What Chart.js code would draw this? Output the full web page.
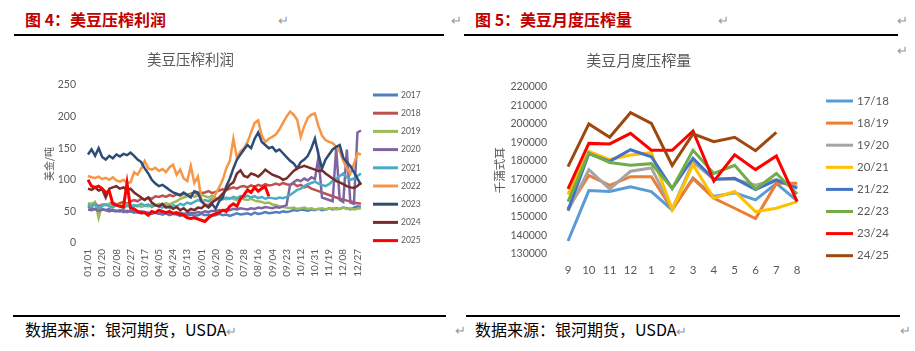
<!DOCTYPE html>
<html>
<head>
<meta charset="utf-8">
<script src="https://cdn.jsdelivr.net/npm/chart.js@4"></script>
<style>
  body { margin: 0; width: 915px; height: 351px; background: #fff; position: relative; overflow: hidden;
         font-family: "Noto Sans CJK SC", sans-serif; }
  .abs { position: absolute; white-space: nowrap; }
  .head { font-size: 16px; font-weight: bold; color: #C00000; line-height: 20px; }
  .rule { height: 2px; background: #000; }
  .foot { font-size: 16px; color: #000; line-height: 20px; }
  .ret { color: #999; font-size: 13px; line-height: 16px; }
  canvas { position: absolute; }
</style>
</head>
<body>
<div class="abs head" style="left:25px;top:9px">图 4：美豆压榨利润</div>
<div class="abs ret" style="left:278px;top:12px">↵</div>
<div class="abs ret" style="left:451px;top:12px">↵</div>
<div class="abs rule" style="left:14px;top:34px;width:430px"></div>

<div class="abs head" style="left:475px;top:9px">图 5：美豆月度压榨量</div>
<div class="abs ret" style="left:718px;top:12px">↵</div>
<div class="abs ret" style="left:897px;top:12px">↵</div>
<div class="abs ret" style="left:897px;top:42px">↵</div>
<div class="abs rule" style="left:464px;top:34px;width:434px"></div>

<canvas id="profitChart" width="425" height="258" style="left:20px;top:45px"></canvas>
<canvas id="crushChart" width="430" height="258" style="left:470px;top:45px"></canvas>

<div class="abs rule" style="left:13px;top:315px;width:433px;height:1.5px"></div>
<div class="abs rule" style="left:466px;top:315px;width:434px;height:1.5px"></div>
<div class="abs foot" style="left:25px;top:319px">数据来源：银河期货，USDA<span class="ret">↵</span></div>
<div class="abs ret" style="left:455px;top:322px">↵</div>
<div class="abs foot" style="left:475px;top:319px">数据来源：银河期货，USDA<span class="ret">↵</span></div>
<div class="abs ret" style="left:900px;top:322px">↵</div>

<script>
// 图4 美豆压榨利润（每约4.75天取一个点，01/01 ~ 12/31）
const tickDates = ['01/01','01/20','02/08','02/27','03/17','04/05','04/24','05/13','06/01','06/20',
                   '07/09','07/28','08/16','09/04','09/23','10/12','10/31','11/19','12/08','12/27'];
const years = ['2017','2018','2019','2020','2021','2022','2023','2024','2025'];

const p2017 = [58,55,53,56,54, 52,54,51,50, 52,49,51,50, 48,50,47,49, 48,46,48,47, 45,47,44,46,
  45,43,46,44, 45,43,44,46, 44,45,43,44, 46,44,45,43, 45,47,45,46, 47,45,48,46, 47,49,47,48,
  49,48,50,49, 50,52,51,53, 52,51,53,52, 54,52,53,55, 53,55,54,56, 55,53,56,58,57];
const p2018 = [62,60,63,58,61, 60,62,64,61, 63,65,62,66, 68,66,70,69, 72,70,74,73, 75,73,76,74,
  77,75,78,76, 78,80,77,79, 80,82,79,81, 83,85,84,86, 88,86,89,90, 88,91,89,92, 90,93,91,92,
  94,92,95,93, 92,94,90,92, 88,90,86,84, 82,80,78,76, 74,72,70,69, 67,66,64,63,62];
const p2019 = [63,62,65,40,61, 60,62,59,61, 60,58,61,59, 58,60,57,59, 58,61,59,62, 60,63,61,64,
  66,70,72,74, 76,73,75,77, 74,72,75,71, 70,72,69,71, 70,68,71,69, 68,70,67,66, 65,63,64,61,
  60,58,57,56, 55,56,54,55, 56,54,55,53, 54,55,53,54, 55,53,54,56, 54,55,53,54,55];
const p2020 = [53,52,54,51,53, 52,50,52,51, 50,52,49,51, 50,48,50,49, 47,49,48,46, 48,47,45,47,
  46,48,46,47, 48,47,49,48, 50,49,51,50, 52,51,53,52, 54,53,55,54, 53,55,54,56, 55,57,56,55,
  57,56,58,60, 92,96,100,98, 102,99,104,101, 136,72,70,68, 66,150,68,65, 148,64,62,175,178];
const p2021 = [60,57,62,55,59, 61,58,56,60, 58,55,59,57, 60,58,62,59, 61,57,60,58, 56,59,55,60,
  58,62,60,64, 62,65,68,66, 68,66,70,68, 71,69,72,70, 73,71,74,72, 75,72,74,71, 73,70,72,71,
  70,72,71,73, 76,80,84,86, 90,93,95,97, 94,92,90,93, 98,102,106,110, 104,100,102,106,110];
const p2022 = [106,104,103,105,101, 103,100,104,99, 97,100,95,96, 112,108,118,130, 118,116,119,114,
  117,112,120,124, 108,116,102,98, 122,95,105,68, 62,60,66,78, 88,100,118,130, 165,135,145,150,
  160,175,190,194, 170,160,165,168, 172,180,190,200, 208,203,195,168, 185,198,203,205,
  185,170,163,160, 158,152,145,130, 118,110,125,142,140];
const p2023 = [140,148,138,150,136, 132,138,134,140, 137,141,139,143, 138,132,128,118, 110,100,94,90,
  92,88,84,80, 78,76,80,76, 72,82,80,66, 60,56,62,54, 66,72,90,102, 118,132,140,148,
  155,150,165,175, 160,155,150,152, 145,148,142,136, 130,126,118,128, 132,138,150,165,
  140,118,132,140, 148,152,155,135, 128,122,112,102,92];
const p2024 = [86,84,88,83,85, 72,86,88,90, 86,88,84,86, 80,76,72,68, 72,64,60,58, 62,56,58,54,
  57,52,55,50, 54,52,56,55, 60,58,64,68, 72,78,84,92, 96,110,115,106, 104,110,108,105,
  110,116,112,108, 106,104,100,102, 108,114,118,120, 122,120,118,116, 114,115,110,106,
  102,98,96,93, 90,88,87,90,96];
const p2025 = [100,90,88,90,86, 80,82,62,60, 58,57,95,55, 54,50,48,48, 44,50,48,52, 50,48,50,47,
  48,45,44,40, 39,40,38,36, 34,40,44,46, 48,52,50,58, 62,58,70,76, 84,80,88,82, 86,89,74];

const profitSeries = [p2017, p2018, p2019, p2020, p2021, p2022, p2023, p2024, p2025];
const profitColors = ['#4F81BD','#C0504D','#9BBB59','#8064A2','#4BACC6','#F79646','#2C4D75','#772C2A','#FF0000'];

// 图5 美豆月度压榨量（千蒲式耳）
const months = ['9','10','11','12','1','2','3','4','5','6','7','8'];
const seasons = ['17/18','18/19','19/20','20/21','21/22','22/23','23/24','24/25'];
const c1718 = [137000,164100,163600,166200,163600,153700,170900,160900,162900,159100,168000,158600];
const c1819 = [154500,172300,166900,171600,171600,153900,170500,160000,154600,149100,168000,168000];
const c1920 = [153200,175400,165000,174500,176300,154200,179500,170200,170200,167000,170000,166000];
const c2021 = [162000,185200,180800,183300,184500,153900,177900,160000,163600,152800,154600,158200];
const c2122 = [153500,184000,179800,186100,182300,165200,181500,170200,170700,164600,169800,165400];
const c2223 = [158200,184300,179200,177700,178600,165300,185800,173300,177700,164900,173300,162300];
const c2324 = [165000,189500,189200,194900,185800,185800,196200,169200,183400,175400,182700,158200];
const c2425 = [177000,200000,192800,206000,200300,177600,194600,190400,192800,185600,195400,null];

const crushSeries = [c1718, c1819, c1920, c2021, c2122, c2223, c2324, c2425];
const crushColors = ['#5B9BD5','#ED7D31','#A5A5A5','#FFC000','#4472C4','#70AD47','#FF0000','#9E480E'];

const tickFont = "Lato, 'Noto Sans CJK SC', sans-serif";
const cjkFont = "'Noto Sans CJK SC', sans-serif";
const grey = '#595959';

// 图例：线段 + 文字，位置由插件参数给定
const lineLegend = {
  id: 'lineLegend',
  afterDraw(chart, args, opts) {
    const ctx = chart.ctx;
    ctx.save();
    ctx.font = opts.font;
    ctx.textBaseline = 'middle';
    ctx.textAlign = 'left';
    chart.data.datasets.forEach((ds, i) => {
      const y = opts.y + i * opts.step;
      ctx.strokeStyle = ds.borderColor;
      ctx.lineWidth = opts.lineWidth;
      ctx.beginPath();
      ctx.moveTo(opts.x, y);
      ctx.lineTo(opts.x + opts.len, y);
      ctx.stroke();
      ctx.fillStyle = grey;
      ctx.fillText(ds.label, opts.x + opts.len + opts.gap, y);
    });
    ctx.restore();
  }
};

// 左图
const dayLabels = [];
for (let i = 0; i < p2017.length; i++) dayLabels.push(i % 4 === 0 ? (tickDates[i / 4] || '') : '');

new Chart(document.getElementById('profitChart'), {
  type: 'line',
  data: {
    labels: dayLabels,
    datasets: profitSeries.map((d, i) => ({
      label: years[i],
      data: d,
      borderColor: profitColors[i],
      backgroundColor: profitColors[i],
      borderWidth: i === 8 ? 3 : 2.5,
      pointRadius: 0,
      tension: 0,
      order: profitSeries.length - i
    }))
  },
  options: {
    responsive: false,
    animation: false,
    devicePixelRatio: 1,
    layout: { padding: { left: 0, right: 84, top: 0, bottom: 0 } },
    plugins: {
      legend: { display: false },
      tooltip: { enabled: false },
      title: {
        display: true,
        text: '美豆压榨利润',
        color: grey,
        font: { family: cjkFont, size: 14.5, weight: 'normal' },
        padding: { top: 6, bottom: 16.6 }
      },
      lineLegend: { x: 353, len: 25, gap: 3, y: 50, step: 18.2, lineWidth: 3, font: "8.5px " + tickFont }
    },
    scales: {
      x: {
        grid: { display: false, drawTicks: false },
        border: { display: false },
        afterFit: s => { s.height = 60; },
        ticks: {
          autoSkip: false, minRotation: 90, maxRotation: 90, padding: 6,
          color: grey, font: { family: tickFont, size: 10 },
          callback: (v, i) => dayLabels[i]
        }
      },
      y: {
        min: 0, max: 250,
        grid: { display: false, drawTicks: false },
        border: { display: false },
        afterFit: s => { s.width = 68; },
        ticks: { stepSize: 50, padding: 12, color: grey, font: { family: tickFont, size: 10.5 } },
        title: {
          display: true, text: '美金/吨', color: grey,
          font: { family: cjkFont, size: 10 }, padding: { top: 23, bottom: 0 }
        }
      }
    }
  },
  plugins: [lineLegend]
});

// 右图
new Chart(document.getElementById('crushChart'), {
  type: 'line',
  data: {
    labels: months,
    datasets: crushSeries.map((d, i) => ({
      label: seasons[i],
      data: d,
      borderColor: crushColors[i],
      backgroundColor: crushColors[i],
      borderWidth: 3,
      pointRadius: 0,
      tension: 0,
      order: crushSeries.length - i
    }))
  },
  options: {
    responsive: false,
    animation: false,
    devicePixelRatio: 1,
    layout: { padding: { left: 0, right: 92.4, top: 0, bottom: 0 } },
    plugins: {
      legend: { display: false },
      tooltip: { enabled: false },
      title: {
        display: true,
        text: '美豆月度压榨量',
        color: grey,
        font: { family: cjkFont, size: 15, weight: 'normal' },
        padding: { top: 6, bottom: 17.7 }
      },
      lineLegend: { x: 356, len: 27, gap: 4, y: 56, step: 22.1, lineWidth: 3, font: "11.5px " + tickFont }
    },
    scales: {
      x: {
        offset: true,
        grid: { display: false, drawTicks: false },
        border: { display: false },
        afterFit: s => { s.height = 49; },
        ticks: { padding: 9, color: grey, font: { family: tickFont, size: 11.5 } }
      },
      y: {
        min: 130000, max: 220000,
        grid: { display: false, drawTicks: false },
        border: { display: false },
        afterFit: s => { s.width = 87.6; },
        ticks: {
          stepSize: 10000, padding: 10.6, color: grey, font: { family: tickFont, size: 10.5 },
          callback: v => String(v)
        },
        title: {
          display: true, text: '千蒲式耳', color: grey,
          font: { family: cjkFont, size: 11.5 }, padding: { top: 23, bottom: 0 }
        }
      }
    }
  },
  plugins: [lineLegend]
});
</script>
</body>
</html>
